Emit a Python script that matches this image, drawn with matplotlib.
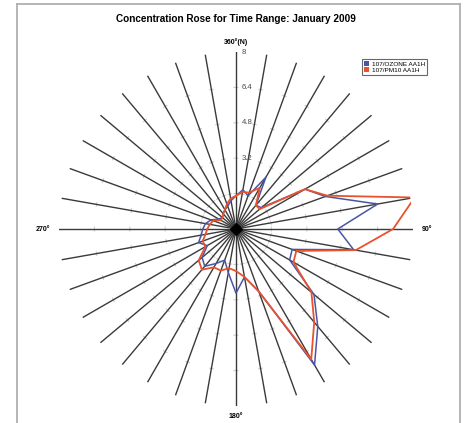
import numpy as np
import matplotlib
matplotlib.use("Agg")
import matplotlib.pyplot as plt
from matplotlib.lines import Line2D

# Direction sectors (degrees clockwise from north) and concentrations per sector
directions = list(range(0, 360, 10))
ozone = [1.5, 1.8, 1.6, 2.7, 1.4, 1.5, 3.6, 4.3, 6.5, 4.6, 5.4, 2.7,
         2.8, 4.6, 5.75, 7.1, 3.0, 2.2, 2.9, 2.0, 1.5, 1.8, 2.2, 2.0,
         1.5, 1.8, 1.6, 1.5, 1.4, 1.2, 0.9, 0.8, 0.9, 1.0, 1.1, 1.3]
pm10 = [1.5, 1.7, 1.75, 2.15, 1.4, 1.4, 3.6, 4.4, 8.2, 7.1, 5.5, 2.9,
        3.0, 4.45, 5.5, 6.8, 3.0, 2.2, 1.9, 1.8, 2.0, 2.0, 2.4, 2.2,
        1.6, 1.6, 1.4, 1.3, 1.2, 1.1, 0.8, 0.8, 0.9, 1.0, 1.2, 1.4]
ring_values = [1.6, 3.2, 4.8, 6.4, 8]
ring_labels = ["1.6", "3.2", "4.8", "6.4", "8"]
compass_labels = {0: "360°(N)", 90: "90°", 180: "180°", 270: "270°"}
series_names = ["107/OZONE AA1H", "107/PM10 AA1H"]

BLUE = "#4b55a6"
RED = "#e8522c"
RAY = "#3a3a3a"

W, H = 465, 423
fig = plt.figure(figsize=(W / 100, H / 100), dpi=100)
fig.patch.set_facecolor("white")

# outer frame
frame_kw = dict(color="#b0b0b0", lw=1.3, transform=fig.transFigure)
fig.add_artist(Line2D([17 / W, 460 / W], [1 - 4 / H, 1 - 4 / H], **frame_kw))
fig.add_artist(Line2D([17 / W, 17 / W], [0, 1 - 4 / H], **frame_kw))
fig.add_artist(Line2D([460 / W, 460 / W], [0, 1 - 4 / H], **frame_kw))

fig.text(236 / W, 1 - 19 / H, "Concentration Rose for Time Range: January 2009",
         ha="center", va="center", fontsize=7.2, fontweight="bold",
         family="Liberation Sans")

cx, cy, R = 236, 229, 177
ax = fig.add_axes([(cx - R) / W, (H - cy - R) / H, 2 * R / W, 2 * R / H],
                  projection="polar")
ax.set_theta_zero_location("N")
ax.set_theta_direction(-1)
ax.set_ylim(0, 8)
ax.grid(False)
ax.set_xticks([])
ax.set_yticks([])
ax.spines["polar"].set_visible(False)
ax.patch.set_alpha(0)

theta = np.deg2rad(directions)

# spokes with small cross ticks at each ring value
for t in theta:
    ax.plot([t, t], [0, 8], color=RAY, lw=1.0, zorder=2)
    for rv in ring_values[:-1]:
        d = 0.09 / rv
        ax.plot(np.linspace(t - d, t + d, 5), [rv] * 5, color="#c8c8c8",
                lw=0.7, zorder=1)

# closed rose outlines
tc = np.append(theta, theta[0])
ax.plot(tc, np.append(ozone, ozone[0]), color=BLUE, lw=1.1, zorder=3)
ax.plot(tc, np.append(pm10, pm10[0]), color=RED, lw=1.3, zorder=4)

ax.plot([0], [0], marker="D", color="black", markersize=6, zorder=5)

# ring value labels along the north spoke
for rv, lab in zip(ring_values[1:], ring_labels[1:]):
    ax.annotate(lab, xy=(0, rv), xytext=(4, 0), textcoords="offset points",
                ha="left", va="center", fontsize=5.6, color="#4a4a4a",
                family="Liberation Sans")

# compass labels
ax.annotate(compass_labels[0], xy=(0, 8), xytext=(0, 4.5), textcoords="offset points",
            ha="center", va="bottom", fontsize=5, fontweight="bold",
            family="Liberation Sans", annotation_clip=False)
ax.annotate(compass_labels[90], xy=(np.pi / 2, 8), xytext=(6, 0),
            textcoords="offset points", ha="left", va="center", fontsize=5,
            fontweight="bold", family="Liberation Sans", annotation_clip=False)
ax.annotate(compass_labels[180], xy=(np.pi, 8), xytext=(0, -5),
            textcoords="offset points", ha="center", va="top", fontsize=5,
            fontweight="bold", family="Liberation Sans", annotation_clip=False)
ax.annotate(compass_labels[270], xy=(3 * np.pi / 2, 8), xytext=(-6, 0),
            textcoords="offset points", ha="right", va="center", fontsize=5,
            fontweight="bold", family="Liberation Sans", annotation_clip=False)

handles = [plt.Rectangle((0, 0), 1, 1, facecolor=c, edgecolor="none")
           for c in (BLUE, RED)]
leg = fig.legend(handles, series_names, loc="upper left",
                 bbox_to_anchor=(362 / W, 1 - 59 / H),
                 frameon=True, fancybox=False, edgecolor="#444444",
                 handlelength=0.8, handleheight=0.9, handletextpad=0.5,
                 borderpad=0.3, labelspacing=0.05, borderaxespad=0,
                 prop={"family": "Liberation Sans", "size": 4.6})
leg.get_frame().set_linewidth(0.8)

fig.savefig("out.png", dpi=100)
